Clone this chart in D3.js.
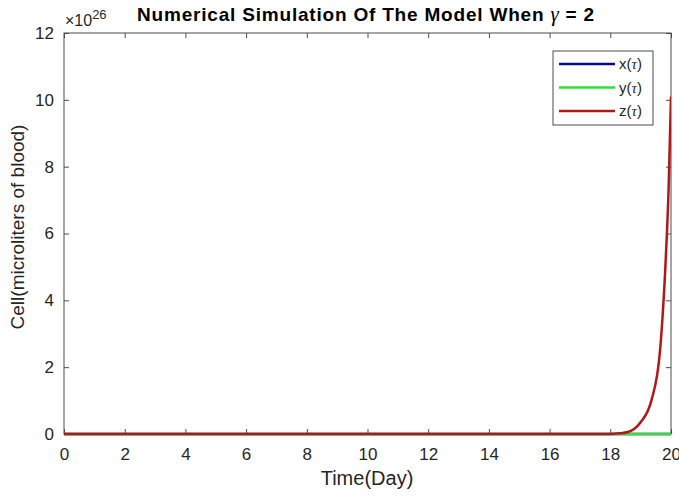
<!DOCTYPE html>
<html>
<head>
<meta charset="utf-8">
<script src="https://cdn.jsdelivr.net/npm/d3@7"></script>
<style>
  html, body { margin: 0; padding: 0; background: #fff; }
  svg { display: block; font-family: "Liberation Sans", Arial, Helvetica, sans-serif; }
</style>
</head>
<body>
<svg id="chart" width="679" height="496"></svg>
<script>
// ---- data (values in units of 1e26) ----
const timeX = [0, 20];
const seriesX = [0, 0];
const timeY = [0, 20];
const seriesY = [0, 0];
const timeZ = [0, 18.0, 18.3, 18.58, 18.98, 19.36, 19.64, 19.825, 19.92, 20];
const seriesZ = [0, 0, 0.02, 0.06, 0.33, 1.02, 2.51, 5.2, 7.3, 10.1];
const xTicks = [0, 2, 4, 6, 8, 10, 12, 14, 16, 18, 20];
const yTicks = [0, 2, 4, 6, 8, 10, 12];
const legendLabels = ["x", "y", "z"];
const seriesColors = ["#0b0b8a", "#33dd33", "#b01818"];

const svg = d3.select("#chart");
const L = 64, R = 671, T = 33, B = 434;
const x = d3.scaleLinear().domain([0, 20]).range([L, R]);
const y = d3.scaleLinear().domain([0, 12]).range([B, T]);
const axisColor = "#4d4d4d";
const textColor = "#262626";

// axes box
svg.append("rect").attr("x", L).attr("y", T).attr("width", R - L).attr("height", B - T)
  .attr("fill", "#fff").attr("stroke", axisColor).attr("stroke-width", 1);

const tl = 5;
const fmt = d3.format("d");
const xb = svg.append("g").attr("transform", `translate(0,${B})`)
  .call(d3.axisBottom(x).tickValues(xTicks).tickSize(-tl).tickPadding(14).tickFormat(fmt));
const xt = svg.append("g").attr("transform", `translate(0,${T})`)
  .call(d3.axisTop(x).tickValues(xTicks).tickSize(-tl).tickFormat(""));
const yl = svg.append("g").attr("transform", `translate(${L},0)`)
  .call(d3.axisLeft(y).tickValues(yTicks).tickSize(-tl).tickPadding(10).tickFormat(fmt));
const yr = svg.append("g").attr("transform", `translate(${R},0)`)
  .call(d3.axisRight(y).tickValues(yTicks).tickSize(-tl).tickFormat(""));
[xb, xt, yl, yr].forEach(g => {
  g.select(".domain").remove();
  g.selectAll(".tick line").attr("stroke", axisColor);
  g.selectAll(".tick text").attr("fill", textColor).attr("font-size", 17)
    .attr("font-family", "Liberation Sans, Arial, sans-serif");
});

// lines
const line = d3.line().x(d => x(d[0])).y(d => y(d[1])).curve(d3.curveMonotoneX);
const data = [
  d3.zip(timeX, seriesX),
  d3.zip(timeY, seriesY),
  d3.zip(timeZ, seriesZ)
];
svg.append("clipPath").attr("id", "clip").append("rect")
  .attr("x", L).attr("y", T).attr("width", R - L).attr("height", B - T + 2);
const lg = svg.append("g").attr("clip-path", "url(#clip)");
data.forEach((d, i) => {
  lg.append("path").datum(d).attr("d", line).attr("fill", "none")
    .attr("stroke", seriesColors[i]).attr("stroke-width", 2.5).attr("stroke-linejoin", "round");
});

// legend
const lgx = 553, lgy = 51, lgw = 100, lgh = 74;
const leg = svg.append("g");
leg.append("rect").attr("x", lgx).attr("y", lgy).attr("width", lgw).attr("height", lgh)
  .attr("fill", "#fff").attr("stroke", axisColor).attr("stroke-width", 1);
legendLabels.forEach((lab, i) => {
  const yy = lgy + 13 + i * 23.5;
  leg.append("line").attr("x1", lgx + 6).attr("x2", lgx + 62).attr("y1", yy).attr("y2", yy)
    .attr("stroke", seriesColors[i]).attr("stroke-width", 2.5);
  const t = leg.append("text").attr("x", lgx + 66).attr("y", yy + 5)
    .attr("font-size", 15).attr("fill", textColor);
  t.append("tspan").text(lab + "(");
  t.append("tspan").attr("font-style", "italic").attr("font-family", "Liberation Serif, Times New Roman, serif").text("τ");
  t.append("tspan").text(")");
});

// exponent label
const ex = svg.append("text").attr("x", L + 1).attr("y", 26).attr("font-size", 16).attr("fill", textColor);
ex.append("tspan").text("×10");
ex.append("tspan").attr("dy", -7).attr("font-size", 13).text("26");

// title
const title = svg.append("text").attr("x", 366).attr("y", 21).attr("text-anchor", "middle")
  .attr("font-size", 19).attr("font-weight", "bold").attr("fill", "#000")
  .attr("letter-spacing", 0.8);
title.append("tspan").text("Numerical Simulation Of The Model When ");
title.append("tspan").attr("font-style", "italic").attr("font-weight", "normal")
  .attr("font-family", "Liberation Serif, Times New Roman, serif").attr("font-size", 21).text("γ");
title.append("tspan").text(" = 2");

// axis labels
svg.append("text").attr("x", 367).attr("y", 485).attr("text-anchor", "middle")
  .attr("font-size", 20).attr("fill", textColor).text("Time(Day)");
svg.append("text").attr("transform", `translate(24,227) rotate(-90)`)
  .attr("text-anchor", "middle").attr("font-size", 19).attr("fill", textColor)
  .text("Cell(microliters of blood)");
</script>
</body>
</html>
